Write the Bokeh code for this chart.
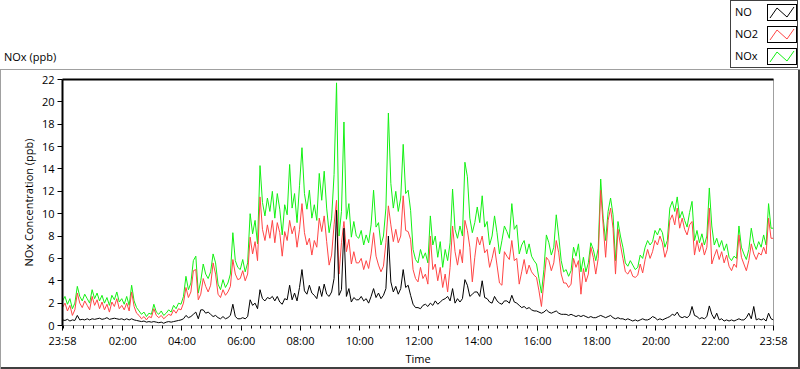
from bokeh.plotting import figure
from bokeh.layouts import column
from bokeh.models import FixedTicker, LinearAxis, Range1d, Div
from bokeh.embed import file_html
from bokeh.resources import INLINE

FONT = "Open Sans"
GREEN = "#14f014"
RED = "#ff4545"
BLACK = "#000000"

# minutes since 23:58 (5-minute samples over 24 h)
minutes = list(range(0, 1441, 5))

nox = [
    2.2, 2.6, 1.9, 2.4, 1.5, 2.0, 3.5, 2.6, 2.2, 2.8, 2.4, 2.0,
    3.2, 2.4, 2.9, 2.2, 2.7, 2.0, 2.5, 1.8, 2.7, 2.3, 3.0, 2.1,
    2.4, 1.9, 2.6, 1.8, 3.6, 2.2, 1.6, 1.3, 1.0, 1.2, 0.8, 1.1,
    1.0, 1.9, 1.2, 1.0, 1.3, 0.9, 1.1, 1.4, 1.2, 1.8, 1.5, 2.0,
    1.9, 2.6, 4.4, 3.2, 3.8, 5.8, 6.2, 2.9, 4.0, 5.5, 4.6, 4.2,
    4.8, 6.4, 5.6, 3.7, 3.2, 4.1, 3.4, 3.8, 4.6, 8.3, 5.8, 5.2,
    5.0, 5.9, 4.8, 5.6, 10.0, 8.2, 9.4, 7.3, 14.3, 11.0, 9.8, 11.4,
    10.2, 12.0, 9.6, 11.8, 10.4, 8.1, 10.8, 9.9, 14.4, 10.5, 11.8, 9.2,
    12.5, 15.9, 11.8, 10.4, 12.1, 9.6, 10.8, 9.4, 13.6, 11.2, 13.8, 10.5,
    8.3, 9.6, 13.5, 21.7, 8.0, 10.2, 18.2, 9.5, 10.9, 7.9, 9.3, 8.0,
    7.8, 8.5, 7.2, 8.1, 7.4, 9.0, 12.1, 8.8, 9.2, 7.2, 8.0, 10.5,
    19.0, 12.7, 10.5, 12.0, 10.2, 11.4, 16.2, 11.8, 12.1, 10.3, 6.8, 5.9,
    5.6, 6.8, 6.0, 6.5, 5.6, 9.8, 7.2, 8.0, 6.1, 7.5, 5.2, 6.8,
    5.8, 7.4, 12.2, 8.6, 7.8, 8.9, 8.0, 14.6, 13.3, 9.6, 8.3, 9.2,
    10.6, 9.2, 11.6, 8.8, 9.3, 7.2, 8.0, 9.8, 8.3, 6.4, 7.6, 8.9,
    8.4, 7.8, 10.9, 8.6, 9.0, 6.4, 7.2, 7.6, 6.4, 7.3, 6.2, 5.8,
    5.5, 4.2, 2.9, 5.0, 8.1, 7.4, 6.3, 7.0, 9.9, 8.0, 5.8, 4.8,
    5.0, 4.4, 4.9, 7.0, 6.2, 7.3, 4.8, 6.1, 4.8, 5.6, 7.4, 6.8,
    5.8, 6.9, 13.1, 9.6, 7.6, 10.2, 11.4, 9.9, 5.8, 9.3, 8.0, 7.0,
    5.6, 5.3, 5.8, 5.4, 5.0, 5.2, 6.3, 6.0, 7.0, 7.6, 7.2, 7.5,
    8.5, 8.1, 8.7, 8.3, 7.0, 7.6, 10.5, 11.1, 10.2, 11.5, 9.6, 10.2,
    9.4, 8.8, 10.1, 11.1, 7.6, 8.5, 7.4, 8.2, 7.2, 8.0, 12.3, 8.9,
    7.2, 7.8, 7.0, 7.6, 6.7, 7.3, 6.1, 5.8, 6.2, 6.0, 8.9, 7.0,
    6.4, 5.9, 6.8, 8.7, 7.4, 6.8, 7.5, 7.0, 8.1, 7.2, 10.9, 8.7,
    8.7,
]

no2 = [
    1.6, 2.0, 1.3, 1.8, 0.9, 1.4, 2.9, 2.0, 1.6, 2.2, 1.8, 1.4,
    2.6, 1.8, 2.3, 1.5, 2.1, 1.4, 1.9, 1.2, 2.1, 1.7, 2.4, 1.5,
    1.8, 1.4, 2.0, 1.3, 3.0, 1.7, 1.1, 0.9, 0.6, 0.8, 0.5, 0.8,
    0.7, 1.5, 0.9, 0.7, 0.9, 0.6, 0.8, 1.0, 0.9, 1.4, 1.1, 1.5,
    1.4, 2.0, 3.4, 2.5, 3.0, 4.9, 5.0, 2.3, 2.8, 4.2, 3.5, 3.0,
    3.6, 5.6, 4.6, 2.8, 2.5, 3.2, 2.7, 3.0, 3.5, 5.9, 4.6, 4.1,
    4.2, 4.9, 4.0, 4.6, 7.9, 6.4, 7.5, 5.8, 11.5, 8.6, 7.6, 9.0,
    7.8, 9.4, 7.4, 9.2, 8.3, 6.2, 8.4, 7.6, 9.4, 8.2, 8.9, 7.0,
    8.6, 10.9, 8.3, 7.2, 7.8, 6.3, 7.6, 7.0, 9.6, 8.4, 9.8, 7.5,
    5.4, 6.3, 9.0, 11.2, 4.6, 7.4, 9.3, 6.6, 7.7, 5.5, 6.6, 5.6,
    5.6, 6.0, 5.0, 5.8, 5.1, 6.4, 8.3, 6.2, 5.4, 4.8, 5.3, 7.4,
    10.7, 9.0, 7.5, 8.6, 7.4, 8.0, 11.6, 8.5, 8.4, 7.7, 5.0, 4.2,
    3.9, 5.2, 4.2, 4.6, 3.7, 8.0, 5.0, 5.5, 4.0, 5.2, 3.4, 4.6,
    3.0, 5.2, 8.9, 6.6, 5.4, 6.8, 5.6, 9.4, 8.5, 7.0, 3.9, 6.1,
    7.9, 7.2, 8.0, 6.5, 6.8, 5.2, 6.0, 7.0, 5.4, 3.8, 3.6, 6.6,
    6.2, 5.9, 7.6, 5.8, 6.0, 3.7, 4.8, 5.9, 4.6, 5.4, 4.8, 4.5,
    4.3, 3.1, 1.7, 3.9, 6.1, 5.8, 4.9, 5.6, 7.6, 6.5, 4.6, 3.8,
    3.8, 3.4, 3.7, 6.0, 5.2, 5.8, 2.8, 5.1, 3.9, 4.6, 7.0, 6.1,
    4.6, 6.0, 12.1, 9.0, 6.1, 9.4, 10.5, 8.7, 4.6, 8.6, 7.2, 6.0,
    4.8, 4.6, 5.0, 4.4, 4.3, 4.5, 5.5, 4.7, 5.9, 6.8, 6.0, 6.6,
    7.6, 7.2, 8.0, 7.4, 6.1, 6.8, 9.4, 9.9, 9.0, 10.5, 8.7, 9.6,
    8.6, 8.1, 9.0, 9.3, 6.3, 7.6, 6.6, 7.4, 6.3, 7.0, 10.5, 5.5,
    6.2, 6.8, 5.9, 6.6, 5.6, 6.3, 5.3, 4.9, 5.5, 5.2, 8.1, 6.1,
    5.5, 4.9, 5.8, 7.3, 6.4, 5.9, 6.5, 6.3, 7.0, 6.4, 9.6, 7.8,
    7.8,
]

no = [
    0.5, 0.45, 0.55, 0.4, 0.5, 0.45, 0.9, 0.5, 0.55, 0.5, 0.6, 0.5,
    0.6, 0.55, 0.6, 0.65, 0.55, 0.6, 0.7, 0.55, 0.6, 0.65, 0.6, 0.55,
    0.6, 0.5, 0.6, 0.5, 0.6, 0.5, 0.45, 0.4, 0.35, 0.4, 0.3, 0.35,
    0.3, 0.35, 0.3, 0.25, 0.3, 0.2, 0.3, 0.35, 0.3, 0.35, 0.4, 0.45,
    0.5, 0.6, 0.9, 0.7, 0.8, 1.0, 1.2, 0.6, 1.4, 1.4, 1.1, 1.2,
    1.0, 0.8, 0.9, 0.7, 0.6, 0.8, 0.6, 0.7, 0.9, 1.9, 0.8, 0.6,
    0.6, 0.7, 0.6, 0.8, 2.3, 1.8, 2.0, 1.5, 3.2, 2.4, 2.2, 2.5,
    2.4, 2.6, 2.2, 2.6, 2.1, 1.9, 2.4, 2.3, 3.6, 2.3, 2.9, 2.2,
    3.4, 5.0, 3.1, 2.8, 3.6, 2.9, 2.7, 2.4, 3.5, 2.6, 3.7, 2.8,
    2.6, 3.0, 4.2, 10.3, 2.7, 3.2, 8.7, 2.6, 3.3, 2.1, 2.5, 2.3,
    2.3, 2.6, 2.2, 2.4, 2.0, 2.6, 3.3, 2.5, 2.9, 2.4, 2.7, 3.3,
    8.0, 3.9, 3.0, 3.5, 2.8, 3.3, 5.0, 3.4, 3.6, 2.7, 1.9, 1.6,
    1.6, 1.5, 1.8, 1.9, 1.7, 2.0, 1.8, 2.2, 1.9, 2.1, 2.3, 2.4,
    2.6, 2.2, 3.3, 2.0, 2.4, 2.1, 2.4, 4.1, 3.6, 2.6, 2.8, 3.0,
    3.0, 2.6, 4.0, 2.5, 2.4, 2.1, 2.0, 2.6, 2.2, 2.0, 1.9, 2.2,
    2.2, 2.0, 2.7, 2.1, 2.0, 1.8, 1.6, 1.7, 1.5, 1.6, 1.4, 1.3,
    1.3, 1.2, 1.1, 1.2, 1.4, 1.2, 1.1, 1.2, 1.3, 1.1, 1.0, 1.0,
    1.0, 0.9, 1.0, 0.9, 0.8, 0.9, 0.8, 0.9, 0.8, 0.7, 0.8, 0.7,
    0.7, 0.8, 0.9, 0.8, 0.7, 0.8, 0.9, 0.7, 0.6, 0.7, 0.6, 0.6,
    0.5, 0.6, 0.5, 0.4, 0.5, 0.4, 0.5, 0.6, 0.5, 0.5, 0.6, 0.8,
    0.7, 0.5, 0.6, 0.5, 0.6, 0.7, 0.8, 1.0, 0.9, 1.2, 0.8, 0.7,
    0.8, 0.7, 0.9, 1.7, 0.9, 0.8, 0.6, 0.7, 0.6, 0.8, 1.75, 1.0,
    0.6, 1.1, 0.5, 0.6, 0.4, 0.5, 0.4, 0.5, 0.4, 0.5, 0.6, 0.5,
    0.5, 0.7, 1.1, 0.6, 1.7, 0.5, 0.6, 0.5, 0.6, 0.4, 1.1, 0.6,
    0.5,
]

series_names = ["NO", "NO2", "NOx"]
series_colors = [BLACK, RED, GREEN]

tick_pos = [0, 122, 242, 362, 482, 602, 722, 842, 962, 1082, 1202, 1322, 1440]
tick_labels = ["23:58", "02:00", "04:00", "06:00", "08:00", "10:00", "12:00",
               "14:00", "16:00", "18:00", "20:00", "22:00", "23:58"]
minor_pos = [m for m in range(2, 1440, 20) if m not in tick_pos]
y_ticks = [0, 2, 4, 6, 8, 10, 12, 14, 16, 18, 20, 22]

# ---------------- header (title + legend) ----------------
TOP_H = 69
rows_html = ""
for i, (name, col) in enumerate(zip(series_names, series_colors)):
    cy = 11 + 22 * i
    rows_html += (
        f'<div style="position:absolute;left:4px;top:{cy - 8}px;line-height:15px;">{name}</div>'
        f'<svg width="30" height="17" style="position:absolute;left:36px;top:{cy - 8}px;">'
        f'<rect x="0.5" y="0.5" width="29" height="16" fill="white" stroke="black" stroke-width="1"/>'
        f'<polyline points="3,14 10,4 20,13 27,3" fill="none" stroke="{col}" stroke-width="1"/>'
        f'</svg>'
    )
header_html = (
    f'<div style="position:relative;width:800px;height:{TOP_H}px;'
    f'font-family:\'{FONT}\';font-size:11px;color:#000;background:white;">'
    f'<div style="position:absolute;left:4px;top:49px;line-height:15px;">NOx (ppb)</div>'
    f'<div style="position:absolute;left:730px;top:0px;width:68px;height:{TOP_H - 1}px;'
    f'border:1px solid #404040;background:white;">{rows_html}</div>'
    f'</div>'
)
header = Div(text=header_html, width=800, height=TOP_H, margin=0)

# ---------------- chart ----------------
W, H = 800, 369 - TOP_H
FL, FR, FT, FB = 62, 773, 79 - TOP_H, 325 - TOP_H   # frame edges in the figure
p = figure(width=W, height=H, x_range=Range1d(0, 1440), y_range=Range1d(0, 22),
           output_backend="svg", toolbar_location=None,
           min_border_left=FL, min_border_right=W - FR, min_border_top=FT,
           min_border_bottom=H - FB, margin=0)
p.grid.visible = False
p.outline_line_color = "#a0a0a0"
p.outline_line_width = 1
p.background_fill_color = "white"
p.border_fill_alpha = 0
p.styles = {"box-shadow": "inset 1px 1px 0 0 #a0a0a0, inset -2px -2px 0 0 #404040",
            "background": "white"}

# data
p.line(minutes, nox, line_color=GREEN, line_width=1)
p.line(minutes, no2, line_color=RED, line_width=1)
p.line(minutes, no, line_color=BLACK, line_width=1)

# x axis
xa = p.xaxis[0]
xa.ticker = FixedTicker(ticks=tick_pos, minor_ticks=minor_pos)
xa.major_label_overrides = {t: l for t, l in zip(tick_pos, tick_labels)}
xa.axis_line_color = "#a0a0a0"
xa.major_tick_line_color = "black"
xa.minor_tick_line_color = "black"
xa.major_tick_out = 5
xa.major_tick_in = 0
xa.minor_tick_out = 3
xa.minor_tick_in = 0
xa.major_label_standoff = 2
xa.axis_label = "Time"
xa.axis_label_standoff = 0

ya = p.yaxis[0]
ya.ticker = FixedTicker(ticks=y_ticks)
ya.axis_line_color = "black"
ya.axis_line_width = 2
ya.major_tick_line_color = "black"
ya.major_tick_out = 5
ya.major_tick_in = 0
ya.minor_tick_line_color = None
ya.major_label_standoff = 3
ya.axis_label = "NOx Concentration (ppb)"
ya.axis_label_standoff = 3

for ax in (xa, ya):
    ax.major_label_text_font = FONT
    ax.major_label_text_font_size = "11px"
    ax.major_label_text_color = "black"
    ax.axis_label_text_font = FONT
    ax.axis_label_text_font_size = "11px"
    ax.axis_label_text_font_style = "normal"
    ax.axis_label_text_color = "black"

top = LinearAxis(ticker=FixedTicker(ticks=[]), major_label_text_font_size="0px",
                 major_tick_line_color=None, minor_tick_line_color=None,
                 axis_line_color="black", axis_line_width=2)
p.add_layout(top, "above")

layout = column(header, p, spacing=0, margin=0)
open("out.html", "w").write(file_html(layout, INLINE))
